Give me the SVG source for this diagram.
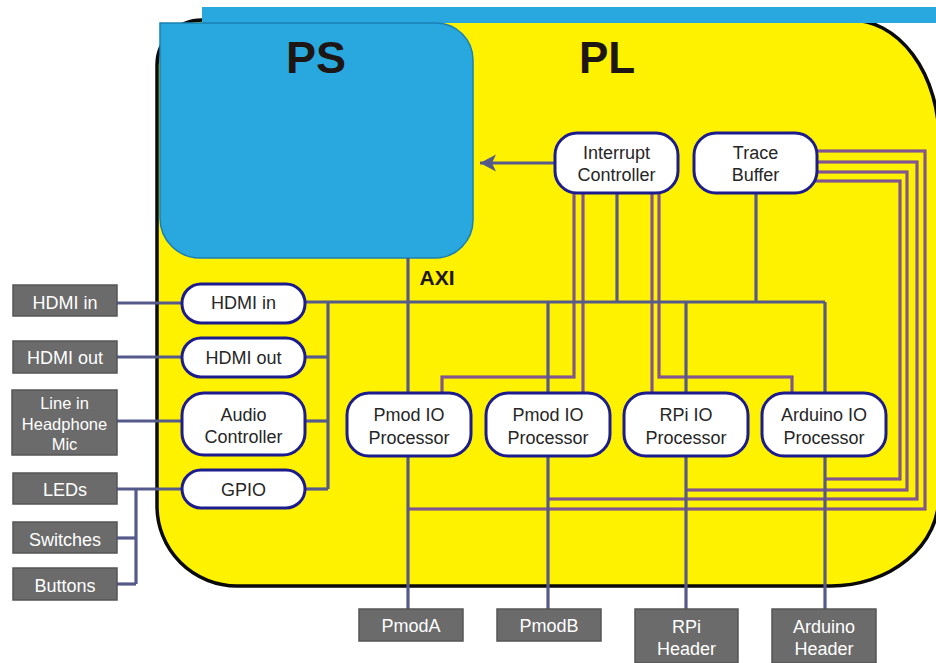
<svg xmlns="http://www.w3.org/2000/svg" width="936" height="663" viewBox="0 0 936 663">
  <defs>
    <style>
      .node rect { fill: #ffffff; stroke: #1c1c8e; stroke-width: 3; }
      .node text { font-family: "Liberation Sans", Arial, sans-serif; font-size: 18px; fill: #262626; text-anchor: middle; }
      .ext rect { fill: #6b6b6b; stroke: #555555; stroke-width: 1.5; }
      .ext text { font-family: "Liberation Sans", Arial, sans-serif; font-size: 18px; fill: #ffffff; text-anchor: middle; }
      .ext text.small { font-size: 16.5px; }
      .bus { fill: none; stroke: #565a8a; stroke-width: 3.2; }
      .sig { fill: none; stroke: #6b3d9e; stroke-width: 3; }
      .sigcore { fill: none; stroke: #a87a86; stroke-width: 0.8; }
      .title { font-family: "Liberation Sans", Arial, sans-serif; font-weight: bold; fill: #1e1614; text-anchor: middle; }
    </style>
    <marker id="arrow" viewBox="0 0 17 18" markerWidth="17" markerHeight="18" refX="16" refY="9" orient="auto" markerUnits="userSpaceOnUse">
      <path d="M16,9 L0,0.5 L4,9 L0,17.5 Z" fill="#565a8a"/>
    </marker>
  </defs>

  <!-- programmable logic board -->
  <path id="board" d="M157,65 A45,45 0 0 1 202,20 H850 A88,120 0 0 1 939,140 V496 A108,90 0 0 1 831,586 H237 A80,80 0 0 1 157,506 Z" fill="#fff200" stroke="#0a0a0a" stroke-width="3.5"/>
  <rect x="202" y="7" width="734" height="16" fill="#29a8df"/>

  <!-- processing system -->
  <g id="ps">
    <path d="M160,23 H436 A37,37 0 0 1 473,60 V220 A38,38 0 0 1 435,258 H200 A40,40 0 0 1 160,218 Z" fill="#29a8df" stroke="#1b7fb3" stroke-width="1.5"/>
    <text class="title" x="316" y="73" font-size="45">PS</text>
  </g>
  <text class="title" x="607" y="73" font-size="44">PL</text>
  <text class="title" x="437" y="285" font-size="21">AXI</text>

  <!-- connectors -->
  <g id="connectors">
    <!-- interrupt lines -->
    <g>
      <path class="sig" d="M574,193 V377 H442 V393"/>
      <path class="sig" d="M583,193 V393"/>
      <path class="sig" d="M652,193 V393"/>
      <path class="sig" d="M659,193 V377 H792 V393"/>
      <path class="sigcore" d="M574,193 V377 H442 V393"/>
      <path class="sigcore" d="M583,193 V393"/>
      <path class="sigcore" d="M652,193 V393"/>
      <path class="sigcore" d="M659,193 V377 H792 V393"/>
    </g>
    <!-- trace lines -->
    <g>
      <path class="sig" d="M815,151 H925 V509 H408"/>
      <path class="sig" d="M815,162 H917 V499 H548"/>
      <path class="sig" d="M815,172 H907 V490 H686"/>
      <path class="sig" d="M812,181 H900 V479 H825"/>
      <path class="sigcore" d="M815,151 H925 V509 H408"/>
      <path class="sigcore" d="M815,162 H917 V499 H548"/>
      <path class="sigcore" d="M815,172 H907 V490 H686"/>
      <path class="sigcore" d="M812,181 H900 V479 H825"/>
    </g>
    <!-- AXI bus -->
    <path class="bus" d="M408,258 V610"/>
    <path class="bus" d="M305,302 H825"/>
    <path class="bus" d="M617,193 V302"/>
    <path class="bus" d="M756,193 V302"/>
    <path class="bus" d="M548,302 V610"/>
    <path class="bus" d="M686,302 V610"/>
    <path class="bus" d="M825,302 V610"/>
    <!-- left side peripherals -->
    <path class="bus" d="M328,302 V489"/>
    <path class="bus" d="M305,357 H328"/>
    <path class="bus" d="M305,421 H328"/>
    <path class="bus" d="M305,489 H328"/>
    <path class="bus" d="M117,303 H182"/>
    <path class="bus" d="M117,357 H182"/>
    <path class="bus" d="M117,421 H182"/>
    <path class="bus" d="M117,489 H182"/>
    <path class="bus" d="M136,489 V584"/>
    <path class="bus" d="M117,538 H136"/>
    <path class="bus" d="M117,584 H136"/>
    <!-- interrupt to PS -->
    <path class="bus" d="M555,163 H480" marker-end="url(#arrow)"/>
  </g>

  <!-- PL cores -->
  <g id="intc" class="node">
    <rect x="555" y="133" width="123" height="60" rx="22"/>
    <text x="616.5" y="159">Interrupt</text>
    <text x="616.5" y="181">Controller</text>
  </g>
  <g id="trace" class="node">
    <rect x="694" y="133" width="123" height="60" rx="22"/>
    <text x="755.5" y="159">Trace</text>
    <text x="755.5" y="181">Buffer</text>
  </g>
  <g id="hdmi-in" class="node">
    <rect x="182" y="284" width="123" height="39" rx="19"/>
    <text x="243.5" y="309">HDMI in</text>
  </g>
  <g id="hdmi-out" class="node">
    <rect x="182" y="338" width="123" height="39" rx="19"/>
    <text x="243.5" y="364">HDMI out</text>
  </g>
  <g id="audio" class="node">
    <rect x="182" y="393" width="123" height="62" rx="22"/>
    <text x="243.5" y="421">Audio</text>
    <text x="243.5" y="443">Controller</text>
  </g>
  <g id="gpio" class="node">
    <rect x="182" y="470" width="123" height="38" rx="19"/>
    <text x="243.5" y="496">GPIO</text>
  </g>
  <g id="pmod-a-iop" class="node">
    <rect x="347" y="393" width="124" height="63" rx="22"/>
    <text x="409" y="421">Pmod IO</text>
    <text x="409" y="444">Processor</text>
  </g>
  <g id="pmod-b-iop" class="node">
    <rect x="486" y="393" width="124" height="63" rx="22"/>
    <text x="548" y="421">Pmod IO</text>
    <text x="548" y="444">Processor</text>
  </g>
  <g id="rpi-iop" class="node">
    <rect x="624" y="393" width="124" height="63" rx="22"/>
    <text x="686" y="421">RPi IO</text>
    <text x="686" y="444">Processor</text>
  </g>
  <g id="arduino-iop" class="node">
    <rect x="762" y="393" width="124" height="63" rx="22"/>
    <text x="824" y="421">Arduino IO</text>
    <text x="824" y="444">Processor</text>
  </g>

  <!-- board connectors -->
  <g id="ext-hdmi-in" class="ext">
    <rect x="13" y="285" width="104" height="31"/>
    <text x="65" y="309">HDMI in</text>
  </g>
  <g id="ext-hdmi-out" class="ext">
    <rect x="13" y="341" width="104" height="32"/>
    <text x="65" y="364">HDMI out</text>
  </g>
  <g id="ext-audio" class="ext">
    <rect x="12" y="390" width="105" height="65"/>
    <text class="small" x="64.5" y="409">Line in</text>
    <text class="small" x="64.5" y="430">Headphone</text>
    <text class="small" x="64.5" y="450">Mic</text>
  </g>
  <g id="ext-leds" class="ext">
    <rect x="13" y="473" width="104" height="31"/>
    <text x="65" y="496">LEDs</text>
  </g>
  <g id="ext-switches" class="ext">
    <rect x="13" y="522" width="104" height="31"/>
    <text x="65" y="546">Switches</text>
  </g>
  <g id="ext-buttons" class="ext">
    <rect x="13" y="568" width="104" height="32"/>
    <text x="65" y="592">Buttons</text>
  </g>
  <g id="ext-pmoda" class="ext">
    <rect x="359" y="609" width="104" height="32"/>
    <text x="411" y="632">PmodA</text>
  </g>
  <g id="ext-pmodb" class="ext">
    <rect x="497" y="609" width="104" height="32"/>
    <text x="549" y="632">PmodB</text>
  </g>
  <g id="ext-rpi" class="ext">
    <rect x="635" y="609" width="103" height="54"/>
    <text x="686.5" y="633">RPi</text>
    <text x="686.5" y="655">Header</text>
  </g>
  <g id="ext-arduino" class="ext">
    <rect x="772" y="609" width="104" height="54"/>
    <text x="824" y="633">Arduino</text>
    <text x="824" y="655">Header</text>
  </g>
</svg>
